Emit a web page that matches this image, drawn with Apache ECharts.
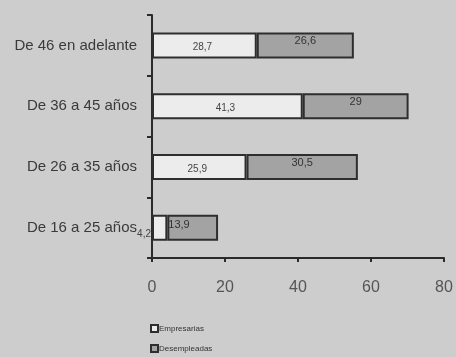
<!DOCTYPE html>
<html><head><meta charset="utf-8">
<script src="https://cdn.jsdelivr.net/npm/echarts@6/dist/echarts.min.js"></script>
<style>html,body{margin:0;padding:0;background:#cdcdcd}#c{width:456px;height:357px}</style>
</head><body><div id="c"></div>
<script>
var categories = ['De 16 a 25 años', 'De 26 a 35 años', 'De 36 a 45 años', 'De 46 en adelante'];
var empresarias = [4.2, 25.9, 41.3, 28.7];
var desempleadas = [13.9, 30.5, 29, 26.6];
var xTicks = [0, 20, 40, 60, 80];

function fmt(v){ return String(v).replace('.', ','); }
var chart = echarts.init(document.getElementById('c'), null, {renderer:'canvas'});
var empData = empresarias.map(function(v){
  var d = {value: v};
  if (v < 8) d.label = {position: 'left', offset: [4, 7]};
  return d;
});
var desData = desempleadas.map(function(v, i){
  var d = {value: v};
  if (empresarias[i] < 8) d.label = {position: 'insideLeft', offset: [-4, -3]};
  return d;
});
chart.setOption({
  backgroundColor: '#cdcdcd',
  animation: false,
  textStyle: {fontFamily: 'Liberation Sans, Arial, sans-serif'},
  grid: {left: 152, right: 12, top: 15, bottom: 99, containLabel: false},
  legend: {
    orient: 'vertical', left: 150, top: 324, itemGap: 11, padding: 0,
    itemWidth: 7, itemHeight: 7, icon: 'rect',
    textStyle: {fontSize: 8, color: '#333', padding: [0,0,0,-4]},
    data: ['Empresarias', 'Desempleadas']
  },
  xAxis: {
    type: 'value', min: xTicks[0], max: xTicks[xTicks.length-1], interval: 20,
    axisLine: {show: true, lineStyle: {color: '#2a2a2a', width: 2}},
    axisTick: {show: true, length: 4, lineStyle: {color: '#2a2a2a', width: 2}},
    axisLabel: {fontSize: 16, color: '#555', margin: 22},
    splitLine: {show: false}
  },
  yAxis: {
    type: 'category', data: categories,
    axisLine: {lineStyle: {color: '#2a2a2a', width: 2}},
    axisTick: {show: true, length: 5, lineStyle: {color: '#2a2a2a', width: 2}},
    axisLabel: {fontSize: 15, color: '#3a3a3a', margin: 15}
  },
  series: [
    {name: 'Empresarias', type: 'bar', stack: 't', barWidth: 26, data: empData,
     itemStyle: {color: '#ececec', borderColor: '#2e2e2e', borderWidth: 2},
     label: {show: true, position: 'inside', offset: [-2, 2], fontSize: 10, color: '#444',
             formatter: function(p){ return fmt(p.value); }}},
    {name: 'Desempleadas', type: 'bar', stack: 't', barWidth: 26, data: desData,
     itemStyle: {color: '#a3a3a3', borderColor: '#2e2e2e', borderWidth: 2},
     label: {show: true, position: 'inside', offset: [0, -4], fontSize: 11, color: '#333',
             formatter: function(p){ return fmt(p.value); }}}
  ]
});
</script></body></html>
